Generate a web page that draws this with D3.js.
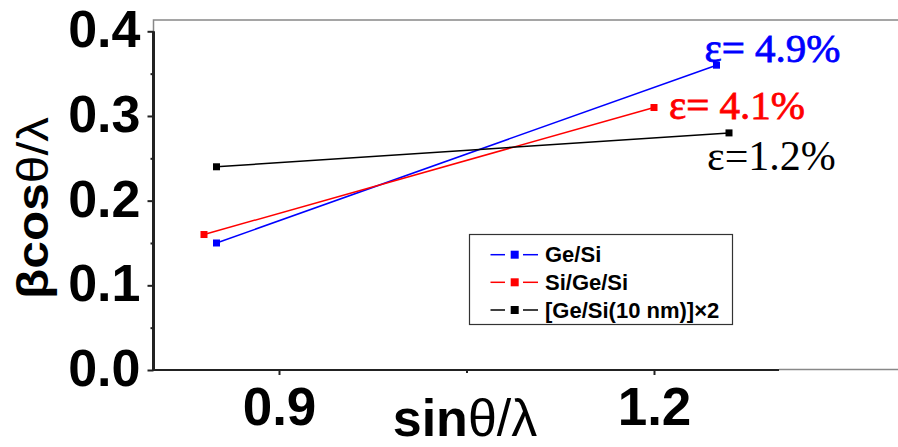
<!DOCTYPE html>
<html>
<head>
<meta charset="utf-8">
<script src="https://cdn.jsdelivr.net/npm/d3@7"></script>
<style>
  html, body { margin: 0; padding: 0; background: #fff; overflow: hidden; }
  svg { display: block; }
</style>
</head>
<body>
<svg id="chart" width="898" height="447"></svg>
<script>
// ---- data ----
const seriesNames = ["Ge/Si", "Si/Ge/Si", "[Ge/Si(10 nm)]×2"];
const seriesColors = ["#0000ff", "#ff0000", "#000000"];
const geSiX = [0.85, 1.25];
const geSiY = [0.15, 0.36];
const siGeSiX = [0.84, 1.20];
const siGeSiY = [0.16, 0.31];
const multiX = [0.85, 1.26];
const multiY = [0.24, 0.28];
const strainLabels = ["ε= 4.9%", "ε= 4.1%", "ε=1.2%"];
const xMajorTicks = [0.9, 1.2];
const xMinorTicks = [1.05];
const yMajorTicks = [0.0, 0.1, 0.2, 0.3, 0.4];
const yMinorTicks = [0.05, 0.15, 0.25, 0.35];
const xDomain = [0.8, 1.3];
const yDomain = [0, 0.4];

const seriesX = [geSiX, siGeSiX, multiX];
const seriesY = [geSiY, siGeSiY, multiY];

(function () {
// ---- layout ----
const svg = d3.select("#chart");
const pLeft = 154, pRight = 779, pBottom = 370, pTop = 31.3;
const x = d3.scaleLinear().domain(xDomain).range([pLeft, pRight]);
const y = d3.scaleLinear().domain(yDomain).range([pBottom, pTop]);

// grey frame (extends beyond right edge)
svg.append("path")
  .attr("d", `M${pLeft - 0.5},${pBottom} L${pLeft - 0.5},20 L905,20 M${pRight},${pBottom - 0.5} L905,${pBottom - 0.5}`)
  .attr("fill", "none").attr("stroke", "#888").attr("stroke-width", 1.5);

// y axis
const yAxis = d3.axisLeft(y).tickValues(yMajorTicks).tickSize(6).tickFormat(d3.format(".1f"));
const gy = svg.append("g").attr("transform", `translate(${pLeft - 0.5},0)`).call(yAxis);
gy.select(".domain").attr("d", `M0,${pBottom + 1}V${pTop}`).attr("stroke", "#222").attr("stroke-width", 3);
gy.selectAll(".tick line").attr("stroke", "#222").attr("stroke-width", 2);
gy.selectAll(".tick text")
  .attr("x", -13).attr("dy", null).attr("y", 15.5)
  .attr("font-family", "Liberation Sans, Arial, sans-serif")
  .attr("font-weight", "bold").attr("font-size", 52).attr("fill", "#000");
const yMinor = d3.axisLeft(y).tickValues(yMinorTicks).tickSize(3).tickFormat("");
const gym = svg.append("g").attr("transform", `translate(${pLeft - 0.5},0)`).call(yMinor);
gym.select(".domain").remove();
gym.selectAll(".tick line").attr("stroke", "#222").attr("stroke-width", 2);

// x axis
const xAxis = d3.axisBottom(x).tickValues(xMajorTicks).tickSize(5).tickFormat(d3.format(".1f"));
const gx = svg.append("g").attr("transform", `translate(0,${pBottom})`).call(xAxis);
gx.select(".domain").attr("d", `M${pLeft - 2},0H${pRight}`).attr("stroke", "#222").attr("stroke-width", 2);
gx.selectAll(".tick line").attr("stroke", "#222").attr("stroke-width", 2);
gx.selectAll(".tick text")
  .attr("y", 55).attr("dy", null)
  .attr("font-family", "Liberation Sans, Arial, sans-serif")
  .attr("font-weight", "bold").attr("font-size", 53).attr("fill", "#000");
const xMinor = d3.axisBottom(x).tickValues(xMinorTicks).tickSize(3).tickFormat("");
const gxm = svg.append("g").attr("transform", `translate(0,${pBottom})`).call(xMinor);
gxm.select(".domain").remove();
gxm.selectAll(".tick line").attr("stroke", "#222").attr("stroke-width", 2);

// axis titles
const xt = svg.append("text")
  .attr("x", 465).attr("y", 436).attr("text-anchor", "middle")
  .attr("font-family", "Liberation Sans, Arial, sans-serif").attr("font-size", 52).attr("fill", "#000");
xt.append("tspan").attr("font-weight", "bold").text("sin");
xt.append("tspan").attr("font-weight", "normal").text("θ/λ");

const yt = svg.append("text")
  .attr("transform", "translate(48,208) rotate(-90)").attr("text-anchor", "middle")
  .attr("textLength", 182).attr("lengthAdjust", "spacingAndGlyphs")
  .attr("font-family", "Liberation Sans, Arial, sans-serif").attr("font-size", 44).attr("fill", "#000");
yt.append("tspan").attr("font-weight", "bold").text("βcos");
yt.append("tspan").attr("font-weight", "normal").text("θ/λ");

// series
const line = d3.line().x(d => x(d[0])).y(d => y(d[1]));
const labelOffsets = [[-12, -3], [15, 11], [-22, 37]];
const labelStroke = [0.8, 0.8, 0];
const labelSizes = [41, 41, 42];
seriesNames.forEach((name, i) => {
  const pts = seriesX[i].map((v, j) => [v, seriesY[i][j]]);
  const g = svg.append("g");
  g.append("path").datum(pts).attr("d", line)
    .attr("fill", "none").attr("stroke", seriesColors[i]).attr("stroke-width", 1.5);
  g.selectAll("rect").data(pts).enter().append("rect")
    .attr("x", d => x(d[0]) - 3.5).attr("y", d => y(d[1]) - 3.5)
    .attr("width", 7).attr("height", 7).attr("fill", seriesColors[i]);
  const end = pts[pts.length - 1];
  svg.append("text")
    .attr("x", x(end[0]) + labelOffsets[i][0]).attr("y", y(end[1]) + labelOffsets[i][1])
    .attr("font-family", "Liberation Serif, Times New Roman, serif")
    .attr("font-size", labelSizes[i]).attr("fill", seriesColors[i])
    .attr("stroke", seriesColors[i]).attr("stroke-width", labelStroke[i])
    .text(strainLabels[i]);
});

// legend
const lg = svg.append("g");
lg.append("rect").attr("x", 469.5).attr("y", 234.5).attr("width", 263).attr("height", 90)
  .attr("fill", "#fff").attr("stroke", "#333").attr("stroke-width", 1.2);
const rowY = [254.7, 282.3, 310];
seriesNames.forEach((name, i) => {
  const ry = rowY[i];
  lg.append("line").attr("x1", 490.5).attr("x2", 505).attr("y1", ry).attr("y2", ry)
    .attr("stroke", seriesColors[i]).attr("stroke-width", 1.5);
  lg.append("line").attr("x1", 523).attr("x2", 538).attr("y1", ry).attr("y2", ry)
    .attr("stroke", seriesColors[i]).attr("stroke-width", 1.5);
  lg.append("rect").attr("x", 510.7).attr("y", ry - 4).attr("width", 8).attr("height", 8)
    .attr("fill", seriesColors[i]);
  lg.append("text").attr("x", 545).attr("y", ry + 7.5)
    .attr("font-family", "Liberation Sans, Arial, sans-serif").attr("font-weight", "bold")
    .attr("font-size", 22).attr("fill", "#000").text(name);
});
})();
</script>
</body>
</html>
